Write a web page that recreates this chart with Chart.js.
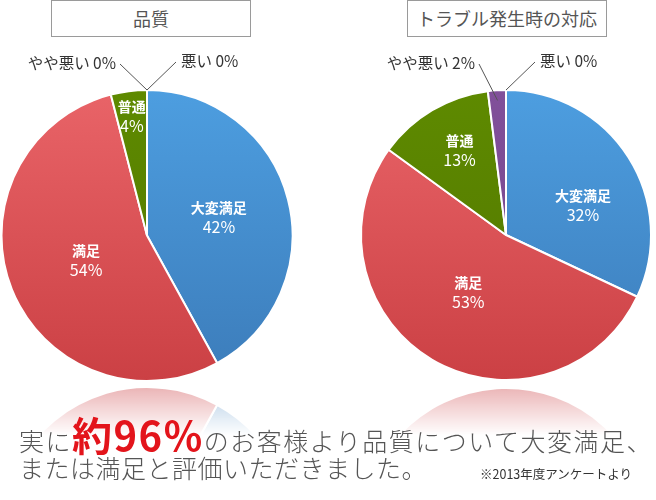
<!DOCTYPE html>
<html lang="ja">
<head>
<meta charset="utf-8">
<script src="https://cdn.jsdelivr.net/npm/chart.js@4.4.1/dist/chart.umd.min.js"></script>
<style>
  body { margin: 0; background: #fff; font-family: "Noto Sans CJK JP", sans-serif; }
  #wrap { position: relative; width: 656px; height: 500px; overflow: hidden; }
  .box { position: absolute; top: 0; width: 198px; height: 35px; border: 1px solid #9a9a9a;
         text-align: center; line-height: 35px; font-size: 18px; color: #555; }
  canvas.pie { position: absolute; top: 40px;
    -webkit-box-reflect: below 0px linear-gradient(to bottom, transparent 0%, transparent 85%, rgba(0,0,0,0.42) 100%); }
  .msg { position: absolute; left: 19px; color: #555; font-weight: 300; white-space: nowrap; letter-spacing: 0.5px; }
  #line1 { top: 413px; font-size: 25px; line-height: 42px; letter-spacing: 1.5px; }
  #line1 .big { color: #e3141b; font-size: 40px; font-weight: 700; letter-spacing: 1.5px; }
  #line2 { top: 452px; font-size: 25px; line-height: 30px; }
  #note { position: absolute; left: 480px; top: 464px; font-size: 12.5px; color: #333; white-space: nowrap; }
</style>
</head>
<body>
<div id="wrap">
  <div class="box" style="left:51px">品質</div>
  <div class="box" style="left:407px">トラブル発生時の対応</div>
  <canvas id="quality" class="pie" width="300" height="344" style="left:0px"></canvas>
  <canvas id="trouble" class="pie" width="300" height="344" style="left:356px"></canvas>
  <div id="line1" class="msg">実に<span class="big">約96%</span>のお客様より品質について大変満足、</div>
  <div id="line2" class="msg">または満足と評価いただきました。</div>
  <div id="note">※2013年度アンケートより</div>
</div>
<script>
const categories = ['大変満足', '満足', '普通', 'やや悪い', '悪い'];
const qualityValues = [42, 54, 4, 0, 0];
const troubleValues = [32, 53, 13, 2, 0];

// slice colours, top and bottom of the vertical gradient
const topColors = ['#4d9ee0', '#e96468', '#5e8a00', '#81509a', '#666'];
const bottomColors = ['#3c7cba', '#cb4044', '#527600', '#74448a', '#555'];

function sliceFill(ctx) {
    const chart = ctx.chart;
    const area = chart.chartArea;
    const i = ctx.dataIndex;
    if (!area) return topColors[i];
    const g = chart.ctx.createLinearGradient(0, area.top, 0, area.bottom);
    g.addColorStop(0, topColors[i]);
    g.addColorStop(1, bottomColors[i]);
    return g;
}

const sliceLabels = {
    id: 'sliceLabels',
    afterDatasetsDraw(chart, args, opts) {
        const ctx = chart.ctx;
        const meta = chart.getDatasetMeta(0);
        const values = chart.data.datasets[0].data;
        ctx.save();
        meta.data.forEach((arc, i) => {
            const p = arc.getProps(['x', 'y', 'startAngle', 'endAngle', 'outerRadius'], true);
            const mid = (p.startAngle + p.endAngle) / 2;
            const pct = values[i] + '%';
            if (i < 3) {
                const spot = opts.spots[i];
                const a = mid + spot[1] * Math.PI / 180;
                const px = p.x + Math.cos(a) * p.outerRadius * spot[0];
                const py = p.y + Math.sin(a) * p.outerRadius * spot[0];
                ctx.fillStyle = '#fff';
                ctx.textAlign = 'center';
                ctx.textBaseline = 'middle';
                ctx.font = 'bold 14px "Noto Sans CJK JP"';
                ctx.fillText(categories[i], px, py - 9);
                ctx.font = '16px "Noto Sans CJK JP"';
                ctx.fillText(pct, px, py + 10);
            } else {
                const r = values[i] > 0 ? p.outerRadius * 0.93 : p.outerRadius;
                const sx = p.x + Math.cos(mid) * r;
                const sy = p.y + Math.sin(mid) * r;
                const left = i === 3;
                const ex = p.x + (left ? -27 : 29);
                const ey = p.y - p.outerRadius - (left ? 26 : 28);
                ctx.strokeStyle = '#555';
                ctx.lineWidth = 1;
                ctx.beginPath();
                ctx.moveTo(sx, sy);
                ctx.lineTo(ex, ey);
                ctx.stroke();
                ctx.fillStyle = '#333';
                ctx.font = '15.5px "Noto Sans CJK JP"';
                ctx.textBaseline = 'middle';
                ctx.textAlign = left ? 'right' : 'left';
                ctx.fillText(categories[i] + ' ' + pct, left ? ex - 4 : ex + 5, ey - 1);
            }
        });
        ctx.restore();
    }
};

function makePie(id, values, padding, spots) {
    return new Chart(document.getElementById(id), {
        type: 'pie',
        data: {
            labels: categories,
            datasets: [{
                data: values,
                backgroundColor: sliceFill,
                borderColor: '#fff',
                borderWidth: 2
            }]
        },
        options: {
            responsive: false,
            animation: false,
            layout: { padding: padding },
            plugins: {
                legend: { display: false },
                tooltip: { enabled: false },
                sliceLabels: { spots: spots }
            }
        },
        plugins: [sliceLabels]
    });
}

// spots: [radius fraction, angle shift in degrees] for the inside labels
makePie('quality', qualityValues, { top: 49, bottom: 2, left: 0, right: 6 },
    [[0.51, 0], [0.45, 0], [0.83, 0]]);
makePie('trouble', troubleValues, { top: 49, bottom: 3, left: 4, right: 4 },
    [[0.57, 11], [0.47, 3], [0.67, 2]]);
</script>
</body>
</html>
